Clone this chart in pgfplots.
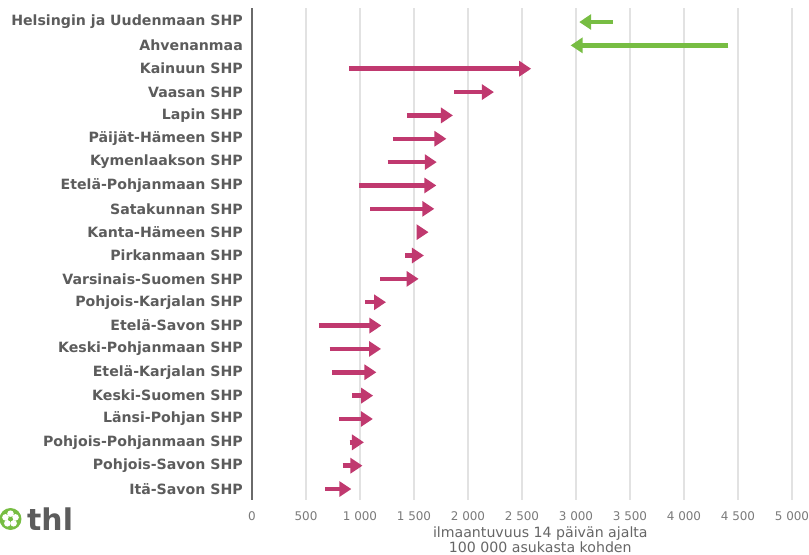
\documentclass[border=0pt]{standalone}
\usepackage{fontspec}
\setmainfont{DejaVu Sans}
\usepackage{pgfplots}
\pgfplotsset{compat=1.18}
\usetikzlibrary{arrows.meta}
\definecolor{pinkc}{HTML}{C0396F}
\definecolor{greenc}{HTML}{77BD43}
\definecolor{labgray}{HTML}{5C5C5C}
\definecolor{tickgray}{HTML}{7A7A7A}
\definecolor{xlabgray}{HTML}{666666}
\definecolor{gridgray}{HTML}{E2E2E2}
\definecolor{axisgray}{HTML}{6A6A6A}
\begin{document}
\begin{tikzpicture}
\begin{axis}[
  scale only axis, width=548.64bp, height=492bp,
  xmin=0, xmax=5080, ymin=-0.6, ymax=20.47, y dir=reverse,
  axis lines*=left,
  x axis line style={draw=none},
  y axis line style={draw=axisgray, line width=2bp},
  xmajorgrids, grid style={draw=gridgray, line width=1.2bp},
  xtick={0,500,...,5000}, ytick={0,...,20},
  major tick length=0pt,
  /pgf/number format/.cd, 1000 sep={\ }, assume math mode=true, /pgfplots/.cd,
  xticklabel style={font=\fontsize{12}{13}\selectfont, text=tickgray, yshift=-8bp},
  yticklabel style={font=\bfseries\fontsize{14.2}{16}\selectfont, text=labgray, inner xsep=0pt, xshift=-9bp},
  yticklabels={Helsingin ja Uudenmaan SHP, Ahvenanmaa, Kainuun SHP, Vaasan SHP, Lapin SHP, Päijät-Hämeen SHP, Kymenlaakson SHP, Etelä-Pohjanmaan SHP, Satakunnan SHP, Kanta-Hämeen SHP, Pirkanmaan SHP, Varsinais-Suomen SHP, Pohjois-Karjalan SHP, Etelä-Savon SHP, Keski-Pohjanmaan SHP, Etelä-Karjalan SHP, Keski-Suomen SHP, Länsi-Pohjan SHP, Pohjois-Pohjanmaan SHP, Pohjois-Savon SHP, Itä-Savon SHP},
  xlabel={ilmaantuvuus 14 päivän ajalta\\100 000 asukasta kohden},
  xlabel style={at={(rel axis cs:0.5,0)}, anchor=center, yshift=-39.5bp, xshift=14bp, align=center, font=\fontsize{14.2}{15.5}\selectfont, text=xlabgray},
]
\addplot[quiver={u=\thisrow{u},v=0}, draw=greenc, line width=4.5bp, line cap=butt,
  -{Triangle[length=12bp,width=15bp]}] table {
x y u
3340 0 -310
4410 1 -1460
};
\addplot[quiver={u=\thisrow{u},v=0}, draw=pinkc, line width=4.5bp, line cap=butt,
  -{Triangle[length=12bp,width=15bp]}] table {
x y u
900 2 1685
1873 3 367
1435 4 426
1305 5 495
1255 6 456
990 7 717
1096 8 592
1530 9 105
1420 10 172
1189 11 354
1050 12 191
620 13 578
719 14 476
745 15 407
930 16 192
808 17 311
904 18 133
838 19 185
680 20 240
};
\end{axis}
% thl logo
\fill[greenc] (-241.5bp,-19bp) circle (11bp);
\foreach \a in {90,162,234,306,18} {
  \fill[white] (-241.5bp,-19bp) ++(\a:5.3bp) circle (3.3bp);
}
\fill[greenc] (-241.5bp,-19bp) circle (2.2bp);
\node[anchor=base west, inner sep=0pt, font=\bfseries\fontsize{30}{32}\selectfont, text=labgray] at (-225bp,-30bp) {thl};
\pgfresetboundingbox
\useasboundingbox (-252bp,-55bp) rectangle (557bp,500bp);
\end{tikzpicture}
\end{document}
